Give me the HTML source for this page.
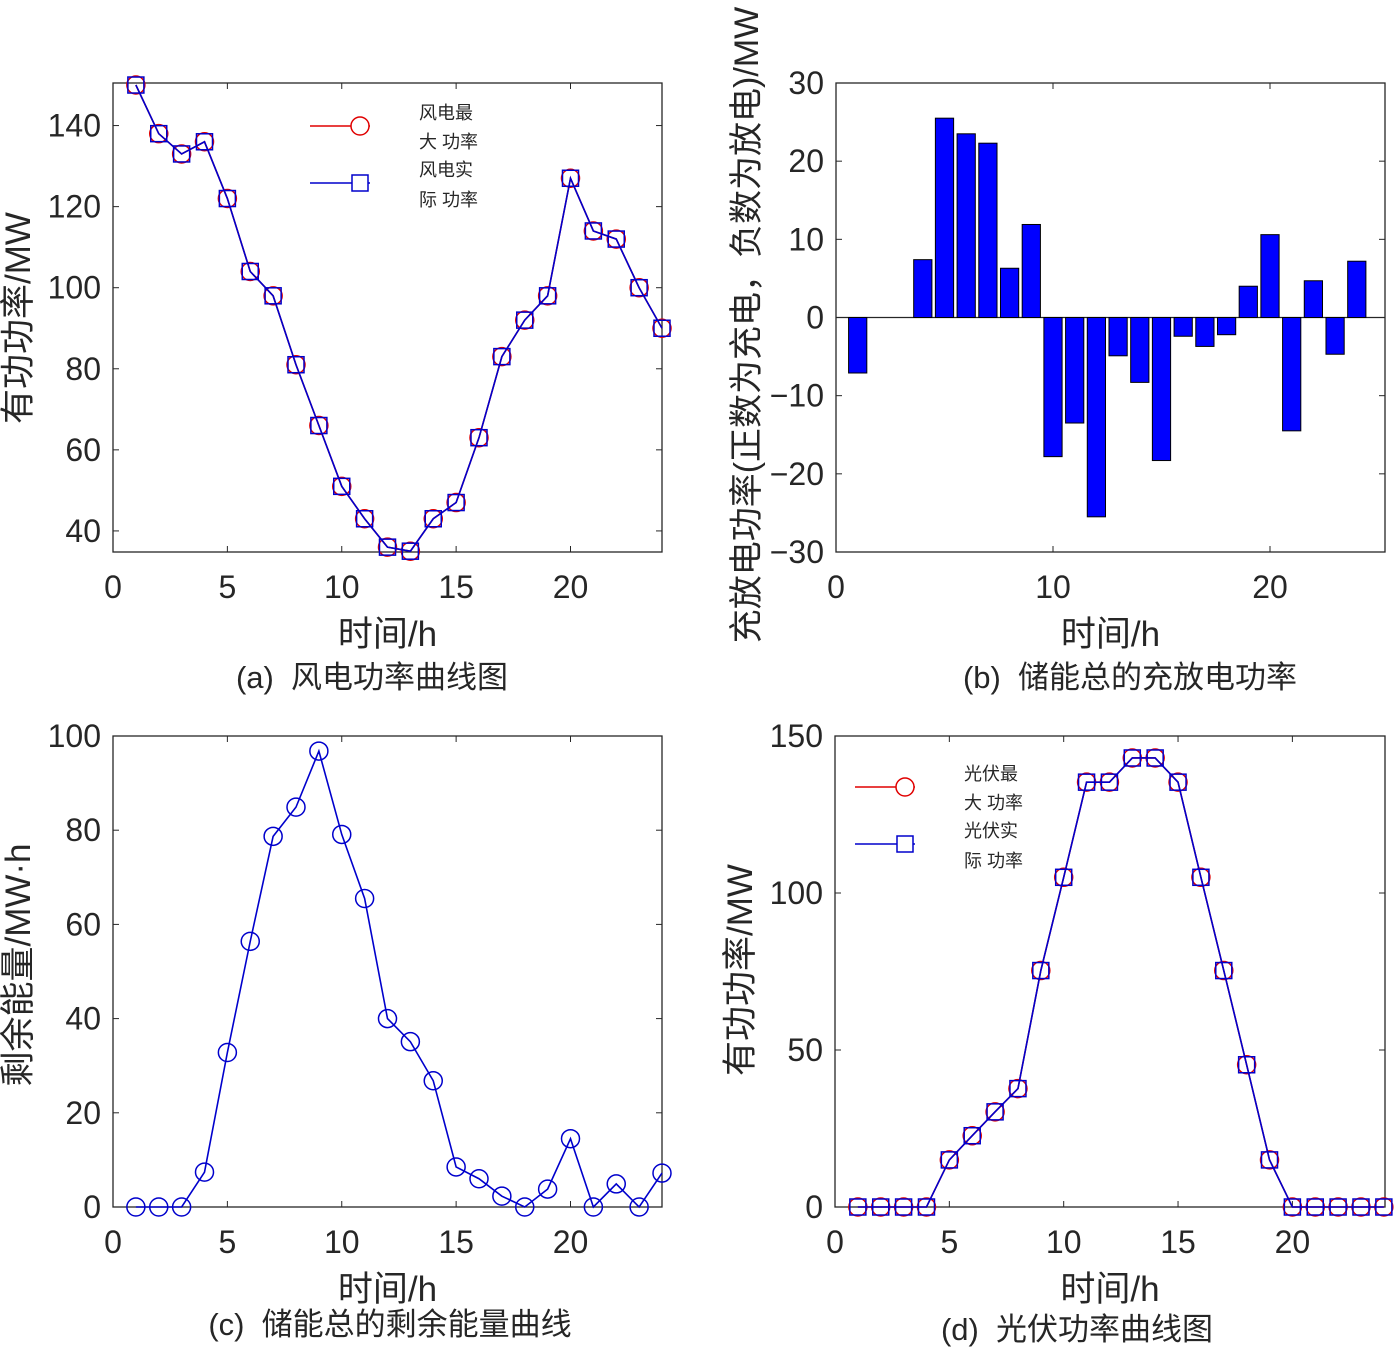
<!DOCTYPE html>
<html><head><meta charset="utf-8"><style>
body{margin:0;background:#fff;}
svg text{font-family:"Liberation Sans","Noto Sans CJK SC",sans-serif;fill:#262626;white-space:pre;}
</style></head><body>
<svg id="s" width="1396" height="1352" xmlns="http://www.w3.org/2000/svg"></svg>
<script>
const hours=[1,2,3,4,5,6,7,8,9,10,11,12,13,14,15,16,17,18,19,20,21,22,23,24];
const windMax=[150,138,133,136,122,104,98,81,66,51,43,36,35,43,47,63,83,92,98,127,114,112,100,90];
const windAct=[150,138,133,136,122,104,98,81,66,51,43,36,35,43,47,63,83,92,98,127,114,112,100,90];
const storagePower=[-7.1,0,0,7.4,25.5,23.5,22.3,6.3,11.9,-17.8,-13.5,-25.5,-4.9,-8.3,-18.3,-2.4,-3.7,-2.2,4,10.6,-14.5,4.7,-4.7,7.2];
const storageEnergy=[0,0,0,7.4,32.8,56.4,78.7,84.9,96.8,79.1,65.5,40,35.1,26.8,8.5,6,2.3,0,3.8,14.5,0,4.9,0,7.2];
const pvMax=[0,0,0,0,15,22.7,30.3,37.7,75.3,105,135.3,135.3,143,143,135.3,105,75.3,45.3,15,0,0,0,0,0];
const pvAct=[0,0,0,0,15,22.7,30.3,37.7,75.3,105,135.3,135.3,143,143,135.3,105,75.3,45.3,15,0,0,0,0,0];
const xTicksA=[0,5,10,15,20], yTicksA=[40,60,80,100,120,140];
const xTicksB=[0,10,20], yTicksB=[-30,-20,-10,0,10,20,30];
const yTicksC=[0,20,40,60,80,100], yTicksD=[0,50,100,150];
const NS="http://www.w3.org/2000/svg";
const svg=document.getElementById('s');
function el(tag,attrs,parent){const e=document.createElementNS(NS,tag);for(const k in attrs)e.setAttribute(k,attrs[k]);(parent||svg).appendChild(e);return e;}
function txt(str,x,y,size,anchor,parent,rot){const t=el('text',{x:x,y:y,'font-size':size,'text-anchor':anchor||'middle'},parent);if(rot)t.setAttribute('transform','rotate(-90 '+x+' '+y+')');t.textContent=str;return t;}
function axes(name,x0,x1,y0,y1,xmin,xmax,ymin,ymax,xt,yt,xlab,ylab,ylx,yly,cap,capx,capy,ytFmt,ylSize){
  const g=el('g',{});
  
  
  const sx=v=>x0+(v-xmin)/(xmax-xmin)*(x1-x0);
  const sy=v=>y1-(v-ymin)/(ymax-ymin)*(y1-y0);
  const box=el('rect',{x:x0,y:y0,width:x1-x0,height:y1-y0,fill:'#fff',stroke:'#262626','stroke-width':1.3},g);
  
  
  const xa=el('g',{},g);
  
  
  xt.forEach(v=>{el('line',{x1:sx(v),x2:sx(v),y1:y1,y2:y1-6,stroke:'#262626'},xa);el('line',{x1:sx(v),x2:sx(v),y1:y0,y2:y0+6,stroke:'#262626'},xa);txt(String(v),sx(v),y1+46,32,'middle',xa);});
  const ya=el('g',{},g);
  
  
  yt.forEach(v=>{el('line',{x1:x0,x2:x0+6,y1:sy(v),y2:sy(v),stroke:'#262626'},ya);el('line',{x1:x1,x2:x1-6,y1:sy(v),y2:sy(v),stroke:'#262626'},ya);txt(ytFmt?ytFmt(v):String(v),x0-12,sy(v)+11,32,'end',ya);});
  const xl=txt(xlab,(x0+x1)/2,y1+94,35,'middle',g);
  
  
  const yl=txt(ylab,ylx,yly,ylSize||35,'middle',g,true);
  
  
  const c=txt(cap,capx,capy,31,'middle',g);
  
  
  return {g,sx,sy};
}
function line(a,xs,ys,color,name){const p=xs.map((x,i)=>a.sx(x)+','+a.sy(ys[i])).join(' ');const l=el('polyline',{points:p,fill:'none',stroke:color,'stroke-width':1.6},a.g);}
function circles(a,xs,ys,color,name){xs.forEach((x,i)=>{const c=el('circle',{cx:a.sx(x),cy:a.sy(ys[i]),r:9,fill:'none',stroke:color,'stroke-width':1.5},a.g);});}
function squares(a,xs,ys,color,name){xs.forEach((x,i)=>{const c=el('rect',{x:a.sx(x)-8,y:a.sy(ys[i])-8,width:16,height:16,fill:'none',stroke:color,'stroke-width':1.5},a.g);});}
function legend(x,y,l1,l2,l3,l4){const g=el('g',{});
  el('line',{x1:x,x2:x+60,y1:y,y2:y,stroke:'#e00000','stroke-width':1.6},g);el('circle',{cx:x+50,cy:y,r:9,fill:'#fff',stroke:'#e00000','stroke-width':1.5},g);
  el('line',{x1:x,x2:x+60,y1:y+57,y2:y+57,stroke:'#0000cc','stroke-width':1.6},g);el('rect',{x:x+42,y:y+49,width:16,height:16,fill:'#fff',stroke:'#0000cc','stroke-width':1.5},g);
  txt(l1,x+109,y-7,18,'start',g);txt(l2,x+109,y+22,18,'start',g);txt(l3,x+109,y+50,18,'start',g);txt(l4,x+109,y+80,18,'start',g);}
// (a)
const A=axes('chart-a-wind',113,662,83,552,0,24,34.8,150.5,xTicksA,yTicksA,'时间/h','有功功率/MW',30,318,'(a)  风电功率曲线图',372,688);
line(A,hours,windMax,'#e00000','wind-max-line');circles(A,hours,windMax,'#e00000','wind-max-point');
line(A,hours,windAct,'#0000cc','wind-actual-line');squares(A,hours,windAct,'#0000cc','wind-actual-point');
legend(310,126,'风电最','大 功率','风电实','际 功率');
// (b)
const B=axes('chart-b-storage-power',836,1385,83,552,0,25.3,-30,30,xTicksB,yTicksB,'时间/h','充放电功率(正数为充电，负数为放电)/MW',758,325,'(b)  储能总的充放电功率',1130,688,v=>v<0?'−'+(-v):String(v),34);
el('line',{x1:836,x2:1385,y1:B.sy(0),y2:B.sy(0),stroke:'#262626','stroke-width':1.3},B.g);
hours.forEach((h,i)=>{const v=storagePower[i];if(v===0)return;const r=el('rect',{x:B.sx(h-0.42),width:B.sx(0.84)-B.sx(0),y:B.sy(Math.max(v,0)),height:Math.abs(B.sy(v)-B.sy(0)),fill:'#0000ff',stroke:'#000','stroke-width':1},B.g);

});
// (c)
const C=axes('chart-c-storage-energy',113,662,736,1207,0,24,0,100,xTicksA,yTicksC,'时间/h','剩余能量/MW·h',30,965,'(c)  储能总的剩余能量曲线',390,1335);
line(C,hours,storageEnergy,'#0000cc','energy-line');circles(C,hours,storageEnergy,'#0000cc','energy-point');
// (d)
const D=axes('chart-d-pv',835,1385,736,1207,0,24.05,0,150,xTicksA,yTicksD,'时间/h','有功功率/MW',752,970,'(d)  光伏功率曲线图',1077,1340);
line(D,hours,pvMax,'#e00000','pv-max-line');circles(D,hours,pvMax,'#e00000','pv-max-point');
line(D,hours,pvAct,'#0000cc','pv-actual-line');squares(D,hours,pvAct,'#0000cc','pv-actual-point');
legend(855,787,'光伏最','大 功率','光伏实','际 功率');
</script>
</body></html>
